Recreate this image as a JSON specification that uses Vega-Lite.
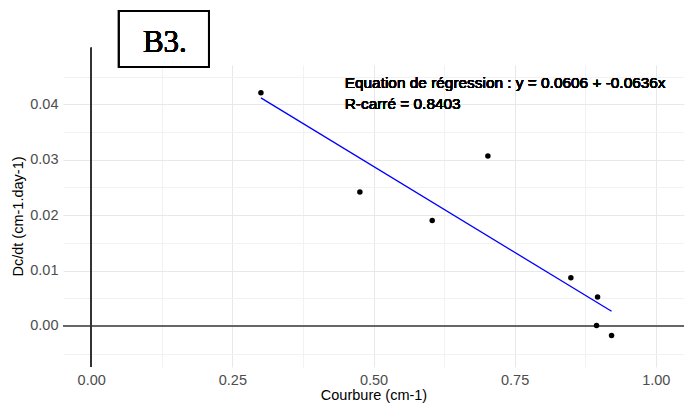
{
  "$schema": "https://vega.github.io/schema/vega-lite/v6.json",
  "width": 621,
  "height": 302,
  "autosize": {"type": "none"},
  "padding": {"left": 63, "top": 65, "right": 4, "bottom": 36},
  "background": "white",
  "config": {
    "view": {"stroke": null},
    "font": "Liberation Sans",
    "axis": {"grid": true, "ticks": false, "domain": false, "labelFont": "Liberation Sans", "titleFont": "Liberation Sans", "labelFontSize": 14.5, "titleFontSize": 14.5, "labelColor": "#4d4d4d", "titleColor": "#000000", "titleFontWeight": "normal", "labelOverlap": false, "labelFlush": false, "labelBound": false}
  },
  "data": {"values": [
    {"x": 0.3006, "y": 0.04209},
    {"x": 0.4759, "y": 0.0242},
    {"x": 0.7026, "y": 0.03068},
    {"x": 0.604, "y": 0.01903},
    {"x": 0.8496, "y": 0.0087},
    {"x": 0.8969, "y": 0.00522},
    {"x": 0.8951, "y": 0.0001},
    {"x": 0.9217, "y": -0.0017}
  ]},
  "layer": [
    {
      "mark": {"type": "rule", "color": "#666666", "strokeWidth": 1.1},
      "encoding": {"y": {"datum": 0, "type": "quantitative"}}
    },
    {
      "mark": {"type": "rule", "color": "#333333", "strokeWidth": 1.3},
      "encoding": {
        "x": {"datum": 0, "type": "quantitative"},
        "y": {"datum": -0.0074, "type": "quantitative"},
        "y2": {"datum": 0.0502}
      }
    },
    {
      "transform": [{"regression": "y", "on": "x"}],
      "mark": {"type": "line", "color": "#0000ff", "strokeWidth": 1.3},
      "encoding": {
        "x": {"field": "x", "type": "quantitative"},
        "y": {"field": "y", "type": "quantitative"}
      }
    },
    {
      "mark": {"type": "point", "filled": true, "color": "black", "size": 30, "opacity": 1},
      "encoding": {
        "x": {"field": "x", "type": "quantitative", "title": "Courbure (cm-1)",
          "scale": {"domain": [-0.05, 1.05], "nice": false, "zero": false},
          "axis": {"grid": true, "values": [0, 0.125, 0.25, 0.375, 0.5, 0.625, 0.75, 0.875, 1.0], "tickCount": 50,
            "labelExpr": "indexof([0,250,500,750,1000], round(datum.value*1000)) >= 0 ? format(datum.value,'.2f') : ''",
            "labelPadding": 6, "titlePadding": 2,
            "gridColor": {"condition": {"test": "indexof([0,250,500,750,1000], round(datum.value*1000)) >= 0", "value": "#e8e8e8"}, "value": "#f2f2f2"}}},
        "y": {"field": "y", "type": "quantitative", "title": "Dc/dt (cm-1.day-1)",
          "scale": {"domain": [-0.0074, 0.0471], "nice": false, "zero": false},
          "axis": {"grid": true, "values": [-0.005, 0, 0.005, 0.01, 0.015, 0.02, 0.025, 0.03, 0.035, 0.04, 0.045], "tickCount": 50,
            "labelExpr": "indexof([0,10,20,30,40], round(datum.value*1000)) >= 0 ? format(datum.value,'.2f') : ''",
            "labelPadding": 5, "titlePadding": 4,
            "gridColor": {"condition": {"test": "indexof([0,10,20,30,40], round(datum.value*1000)) >= 0", "value": "#e8e8e8"}, "value": "#f2f2f2"}}}
      }
    },
    {
      "mark": {"type": "rect", "fill": "white", "stroke": "black", "strokeWidth": 2},
      "encoding": {
        "x": {"datum": 0.0491, "type": "quantitative"},
        "x2": {"datum": 0.2085},
        "y": {"datum": 0.05686, "type": "quantitative"},
        "y2": {"datum": 0.04672}
      }
    },
    {
      "mark": {"type": "text", "text": "B3.", "font": "Liberation Serif", "fontSize": 31, "fontWeight": "normal", "align": "center", "baseline": "alphabetic", "fill": "black"},
      "encoding": {
        "x": {"datum": 0.1305, "type": "quantitative"},
        "y": {"datum": 0.04942, "type": "quantitative"}
      }
    },
    {
      "mark": {"type": "text", "text": "Equation de régression : y = 0.0606 + -0.0636x", "font": "Liberation Sans", "fontSize": 15.4, "fontWeight": "normal", "align": "left", "baseline": "alphabetic", "fill": "black"},
      "encoding": {
        "x": {"datum": 0.449, "type": "quantitative"},
        "y": {"datum": 0.04299, "type": "quantitative"}
      }
    },
    {
      "mark": {"type": "text", "text": "R-carré = 0.8403", "font": "Liberation Sans", "fontSize": 15.4, "fontWeight": "normal", "align": "left", "baseline": "alphabetic", "fill": "black"},
      "encoding": {
        "x": {"datum": 0.449, "type": "quantitative"},
        "y": {"datum": 0.0391, "type": "quantitative"}
      }
    }
  ]
}
